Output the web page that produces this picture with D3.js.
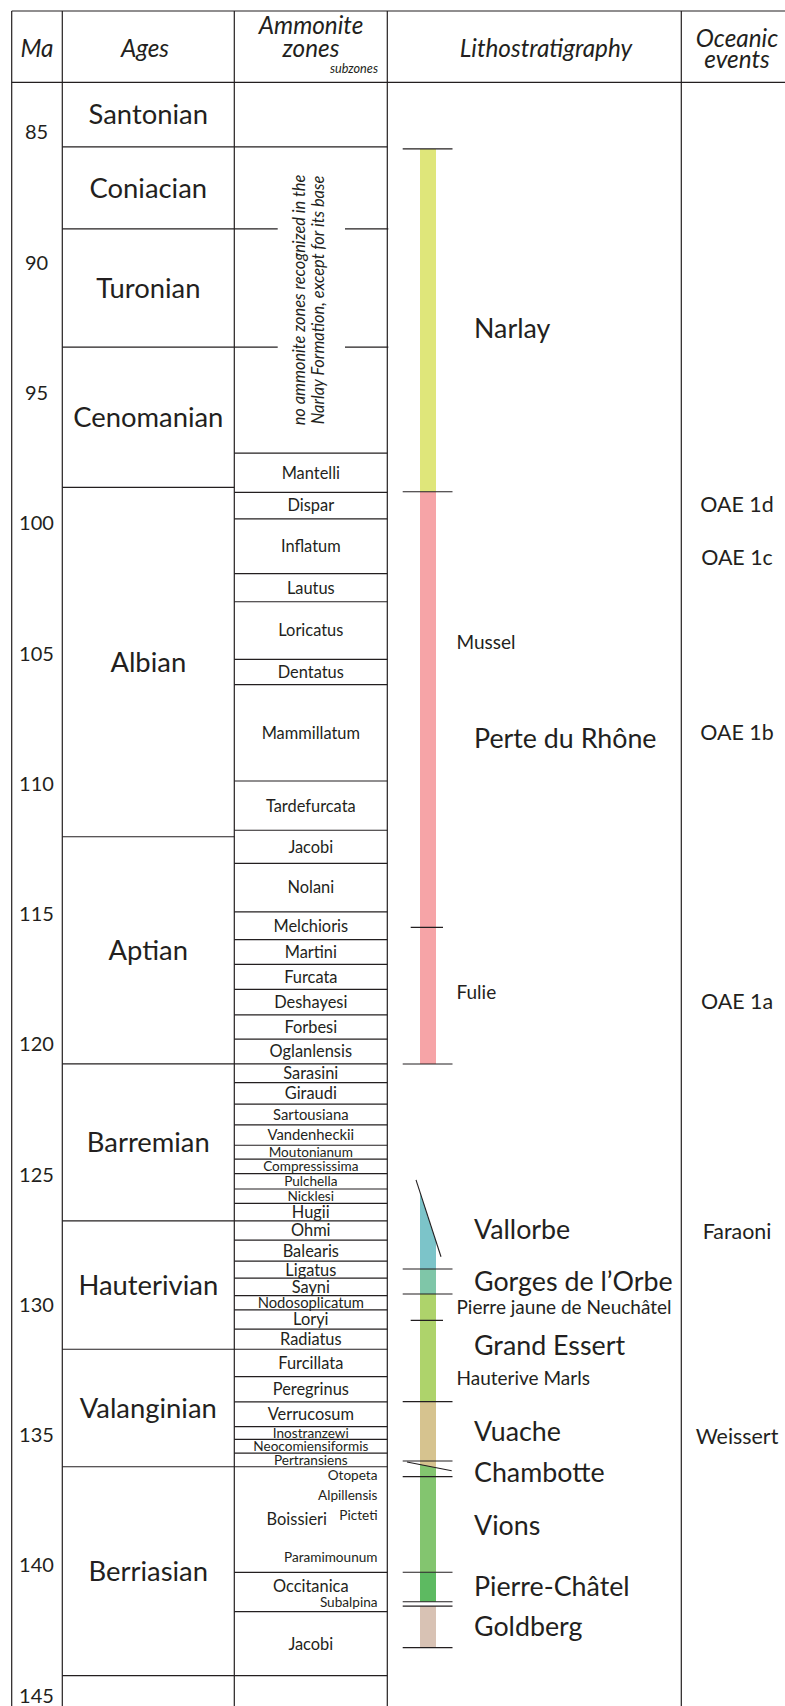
<!DOCTYPE html>
<html>
<head>
<meta charset="utf-8">
<script src="https://cdn.jsdelivr.net/npm/d3@7"></script>
<style>
  html, body { margin: 0; padding: 0; background: #fff; }
  svg { display: block; }
</style>
</head>
<body>
<script>
// ---- data (ages in Ma) ----
const maTicks = [85, 90, 95, 100, 105, 110, 115, 120, 125, 130, 135, 140, 145]

const stageNames = ['Santonian', 'Coniacian', 'Turonian', 'Cenomanian', 'Albian', 'Aptian',
    'Barremian', 'Hauterivian', 'Valanginian', 'Berriasian', '']
const stageBounds = [83.1, 85.58, 88.73, 93.27, 98.65, 112.06, 120.78, 126.80, 131.73, 136.24, 144.26, 146.5]

const NOTE = 'note'
const zoneNames = ['', NOTE, 'Mantelli', 'Dispar', 'Inflatum', 'Lautus', 'Loricatus', 'Dentatus',
    'Mammillatum', 'Tardefurcata', 'Jacobi', 'Nolani', 'Melchioris', 'Martini', 'Furcata',
    'Deshayesi', 'Forbesi', 'Oglanlensis', 'Sarasini', 'Giraudi', 'Sartousiana', 'Vandenheckii',
    'Moutonianum', 'Compressissima', 'Pulchella', 'Nicklesi', 'Hugii', 'Ohmi', 'Balearis',
    'Ligatus', 'Sayni', 'Nodosoplicatum', 'Loryi', 'Radiatus', 'Furcillata', 'Peregrinus',
    'Verrucosum', 'Inostranzewi', 'Neocomiensiformis', 'Pertransiens', 'Boissieri',
    'Occitanica', 'Jacobi', '']
const zoneBounds = [83.1, 85.58, 97.34, 98.84, 99.86, 101.96, 103.04, 105.25,
    106.22, 109.92, 111.81, 113.08, 114.94, 116.01, 116.96,
    117.92, 118.90, 119.83, 120.78, 121.50, 122.32, 123.12,
    123.90, 124.43, 124.99, 125.58, 126.13, 126.80, 127.54,
    128.35, 129.00, 129.67, 130.22, 130.96, 131.73, 132.78,
    133.75, 134.70, 135.19, 135.72, 136.24,
    140.29, 141.80, 144.26, 146.5]

const noteLines = ['no ammonite zones recognized in the', 'Narlay Formation, except for its base']

const subzoneNames = ['Otopeta', 'Alpillensis', 'Picteti', 'Paramimounum', 'Subalpina']
const subzoneAges = [136.56, 137.33, 138.09, 139.70, 141.42]

// formations: a pair = oblique contact (Ma at the two ends of the drawn line)
const formationNames = ['Narlay', 'Perte du Rhône', 'Vallorbe', 'Gorges de l\u2019Orbe', 'Grand Essert',
    'Vuache', 'Chambotte', 'Vions', 'Pierre-Châtel', 'Goldberg']
const formationTops = [85.66, 98.82, [125.23, 128.18], 128.65, 129.61, 133.74, 136.02, 136.62, 140.29, 141.59]
const formationBases = [98.82, 120.78, 128.65, 129.61, 133.74, [136.06, 136.39], 136.62, 140.29, 141.42, 143.18]
const formationLabelAges = [92.56, 108.28, 127.11, 129.14, 131.57, 134.89, 136.47, 138.50, 140.82, 142.38]

const memberNames = ['Mussel', 'Fulie', 'Pierre jaune de Neuchâtel', 'Hauterive Marls']
const memberLabelAges = [104.58, 118.01, 130.12, 132.84]
const memberBounds = [115.54, 130.62]

const eventNames = ['OAE 1d', 'OAE 1c', 'OAE 1b', 'OAE 1a', 'Faraoni', 'Weissert']
const eventAges = [99.30, 101.32, 108.07, 118.39, 127.22, 135.06]

// ---- styles ----
const ink = '#231f20'
const font = 'Lato, "Open Sans", sans-serif'
const unitColor = {
    'Narlay': '#dfe67a', 'Perte du Rhône': '#f6a4a7', 'Vallorbe': '#7cc4c9',
    'Gorges de l\u2019Orbe': '#7fc6a8', 'Grand Essert': '#aed36b', 'Vuache': '#d6c38f',
    'Chambotte': '#83c56f', 'Vions': '#83c56f', 'Pierre-Châtel': '#5dba61', 'Goldberg': '#d8c2b4'
}
const obliqueSpan = { 'Vallorbe': [-4, 5], 'Vuache': [-13, 15.7] }
const smallZones = new Set(['Moutonianum', 'Compressissima', 'Pulchella', 'Nicklesi',
    'Inostranzewi', 'Neocomiensiformis', 'Pertransiens'])
const narrowZones = new Set(['Sartousiana', 'Vandenheckii', 'Nodosoplicatum'])
const zoneShift = { 'Boissieri': [-14, 0], 'Occitanica': [0, -6] }

// ---- layout ----
const W = 785, H = 1706
const cols = { left: 11.7, ma: 62.3, age: 234.3, zone: 387.3, litho: 681.3, right: 787 }
const tableTop = 11, headBottom = 82.3
const bar = { x0: 420, x1: 436 }
const longTick = [402.7, 452.5], shortTick = [410.7, 443]

const y = d3.scaleLinear().domain([85, 145]).range([131.7, 1695])

let svg = d3.select('body')
    .append('svg')
    .attr('width', W)
    .attr('height', H)
    .attr('font-family', font)

// table frame
let grid = svg.append('g').attr('stroke', ink).attr('stroke-width', 1.2)
;[cols.left, cols.ma, cols.age, cols.zone, cols.litho, cols.right].forEach(x => {
    grid.append('line').attr('x1', x).attr('x2', x).attr('y1', tableTop).attr('y2', H)
})
;[tableTop, headBottom].forEach(yy => {
    grid.append('line').attr('x1', cols.left).attr('x2', W).attr('y1', yy).attr('y2', yy)
})

// header
let head = svg.append('g')
    .attr('font-style', 'italic')
    .attr('fill', ink)
    .attr('text-anchor', 'middle')
    .attr('font-size', 24.3)
head.append('text').attr('x', 37).attr('y', 57).text('Ma')
head.append('text').attr('x', 145).attr('y', 57).text('Ages')
head.append('text').attr('x', 311).attr('y', 34.3).text('Ammonite')
head.append('text').attr('x', 311).attr('y', 57).text('zones')
head.append('text').attr('x', 378).attr('y', 72.7).attr('text-anchor', 'end')
    .attr('font-size', 12.7).text('subzones')
head.append('text').attr('x', 546).attr('y', 57.3).text('Lithostratigraphy')
head.append('text').attr('x', 737).attr('y', 46.7).text('Oceanic')
head.append('text').attr('x', 737).attr('y', 68.3).text('events')

// Ma axis
let axis = svg.append('g')
    .attr('transform', 'translate(36.5,0)')
    .call(d3.axisLeft(y).tickValues(maTicks).tickSize(0).tickFormat(d3.format('d')))
axis.select('.domain').remove()
axis.attr('font-family', font).attr('font-size', 20)
axis.selectAll('text')
    .attr('x', 0)
    .attr('dy', '0.36em')
    .attr('text-anchor', 'middle')
    .attr('fill', ink)

// stages
const stages = stageNames.map((n, i) => ({ name: n, top: stageBounds[i], base: stageBounds[i + 1] }))
let gAge = svg.append('g')
gAge.selectAll('line')
    .data(stages.slice(1))
    .enter()
    .append('line')
    .attr('x1', cols.ma).attr('x2', cols.age)
    .attr('y1', d => y(d.top)).attr('y2', d => y(d.top))
    .attr('stroke', ink).attr('stroke-width', 1.2)
gAge.selectAll('text')
    .data(stages.filter(d => d.name))
    .enter()
    .append('text')
    .attr('x', (cols.ma + cols.age) / 2)
    .attr('y', d => y((d.top + d.base) / 2))
    .attr('dy', '0.36em')
    .attr('text-anchor', 'middle')
    .attr('font-size', 27.4)
    .attr('fill', ink)
    .text(d => d.name)

// ammonite zones
const zones = zoneNames.map((n, i) => ({ name: n, top: zoneBounds[i], base: zoneBounds[i + 1] }))
const zoneMid = (cols.age + cols.zone) / 2
let gZone = svg.append('g')
gZone.selectAll('line')
    .data(zones.slice(1))
    .enter()
    .append('line')
    .attr('x1', cols.age).attr('x2', cols.zone)
    .attr('y1', d => y(d.top)).attr('y2', d => y(d.top))
    .attr('stroke', ink).attr('stroke-width', 1.2)

gZone.selectAll('text.zone')
    .data(zones.filter(d => d.name && d.name !== NOTE))
    .enter()
    .append('text')
    .attr('class', 'zone')
    .attr('x', d => zoneMid + (zoneShift[d.name] ? zoneShift[d.name][0] : 0))
    .attr('y', d => y((d.top + d.base) / 2) + (zoneShift[d.name] ? zoneShift[d.name][1] : 0))
    .attr('dy', '0.36em')
    .attr('text-anchor', 'middle')
    .attr('font-size', d => smallZones.has(d.name) ? 13.6 : narrowZones.has(d.name) ? 14.8 : 16.4)
    .attr('fill', ink)
    .text(d => d.name)

// note block: stage boundaries cut around the rotated text
const note = zones.find(d => d.name === NOTE)
const gap = [277.7, 345]
const inNote = stageBounds.filter(b => b > note.top && b < note.base)
inNote.forEach(b => {
    gZone.append('line').attr('x1', cols.age).attr('x2', gap[0])
        .attr('y1', y(b)).attr('y2', y(b)).attr('stroke', ink).attr('stroke-width', 1.2)
    gZone.append('line').attr('x1', gap[1]).attr('x2', cols.zone + 1)
        .attr('y1', y(b)).attr('y2', y(b)).attr('stroke', ink).attr('stroke-width', 1.2)
})
let noteText = gZone.append('g')
    .attr('transform', `translate(${zoneMid - 1.8},${y((note.top + note.base) / 2)}) rotate(-90)`)
    .attr('font-style', 'italic')
    .attr('font-size', 16.4)
    .attr('fill', ink)
    .attr('text-anchor', 'middle')
noteText.selectAll('text')
    .data(noteLines)
    .enter()
    .append('text')
    .attr('x', 0)
    .attr('y', (d, i) => -10 + i * 19.3)
    .attr('dy', '0.35em')
    .text(d => d)

// subzones
gZone.selectAll('text.sub')
    .data(subzoneNames.map((n, i) => ({ name: n, age: subzoneAges[i] })))
    .enter()
    .append('text')
    .attr('class', 'sub')
    .attr('x', 377.5)
    .attr('y', d => y(d.age))
    .attr('dy', '0.36em')
    .attr('text-anchor', 'end')
    .attr('font-size', 13.6)
    .attr('fill', ink)
    .text(d => d.name)

// lithostratigraphy
function contact(v, span) {
    if (!Array.isArray(v)) return { flat: true, at: () => v }
    const xa = bar.x0 + span[0], xb = bar.x1 + span[1]
    return { flat: false, xa: xa, xb: xb, v: v, at: x => v[0] + (v[1] - v[0]) * (x - xa) / (xb - xa) }
}
const units = formationNames.map((n, i) => ({
    name: n,
    top: contact(formationTops[i], obliqueSpan[n]),
    base: contact(formationBases[i], obliqueSpan[n]),
    label: formationLabelAges[i]
}))

let gLitho = svg.append('g')
// oblique units drawn last so they overlap their neighbours
const fillOrder = units.slice().sort((a, b) =>
    (a.top.flat && a.base.flat ? 0 : 1) - (b.top.flat && b.base.flat ? 0 : 1))
gLitho.selectAll('polygon')
    .data(fillOrder)
    .enter()
    .append('polygon')
    .attr('points', d => [
        [bar.x0, y(d.top.at(bar.x0))], [bar.x1, y(d.top.at(bar.x1))],
        [bar.x1, y(d.base.at(bar.x1))], [bar.x0, y(d.base.at(bar.x0))]
    ].map(p => p.join(',')).join(' '))
    .attr('fill', d => unitColor[d.name])

const flatEdges = Array.from(new Set(
    formationTops.concat(formationBases).filter(v => !Array.isArray(v))))
gLitho.selectAll('line.fm')
    .data(flatEdges)
    .enter()
    .append('line')
    .attr('class', 'fm')
    .attr('x1', longTick[0]).attr('x2', longTick[1])
    .attr('y1', d => y(d)).attr('y2', d => y(d))
    .attr('stroke', ink).attr('stroke-width', 1.1)

const oblique = units.flatMap(u => [u.top, u.base]).filter(c => !c.flat)
gLitho.selectAll('line.ob')
    .data(oblique)
    .enter()
    .append('line')
    .attr('class', 'ob')
    .attr('x1', d => d.xa).attr('x2', d => d.xb)
    .attr('y1', d => y(d.v[0])).attr('y2', d => y(d.v[1]))
    .attr('stroke', ink).attr('stroke-width', 1.1)

gLitho.selectAll('line.mb')
    .data(memberBounds)
    .enter()
    .append('line')
    .attr('class', 'mb')
    .attr('x1', shortTick[0]).attr('x2', shortTick[1])
    .attr('y1', d => y(d)).attr('y2', d => y(d))
    .attr('stroke', ink).attr('stroke-width', 1.1)

gLitho.selectAll('text.fm')
    .data(units)
    .enter()
    .append('text')
    .attr('class', 'fm')
    .attr('x', 474)
    .attr('y', d => y(d.label))
    .attr('dy', '0.36em')
    .attr('font-size', 26.8)
    .attr('fill', ink)
    .text(d => d.name)

gLitho.selectAll('text.mb')
    .data(memberNames.map((n, i) => ({ name: n, age: memberLabelAges[i] })))
    .enter()
    .append('text')
    .attr('class', 'mb')
    .attr('x', 456.5)
    .attr('y', d => y(d.age))
    .attr('dy', '0.36em')
    .attr('font-size', 19)
    .attr('fill', ink)
    .text(d => d.name)

// oceanic events
svg.append('g').selectAll('text')
    .data(eventNames.map((n, i) => ({ name: n, age: eventAges[i] })))
    .enter()
    .append('text')
    .attr('x', 737)
    .attr('y', d => y(d.age))
    .attr('dy', '0.36em')
    .attr('text-anchor', 'middle')
    .attr('font-size', 21.4)
    .attr('fill', ink)
    .text(d => d.name)
</script>
</body>
</html>
